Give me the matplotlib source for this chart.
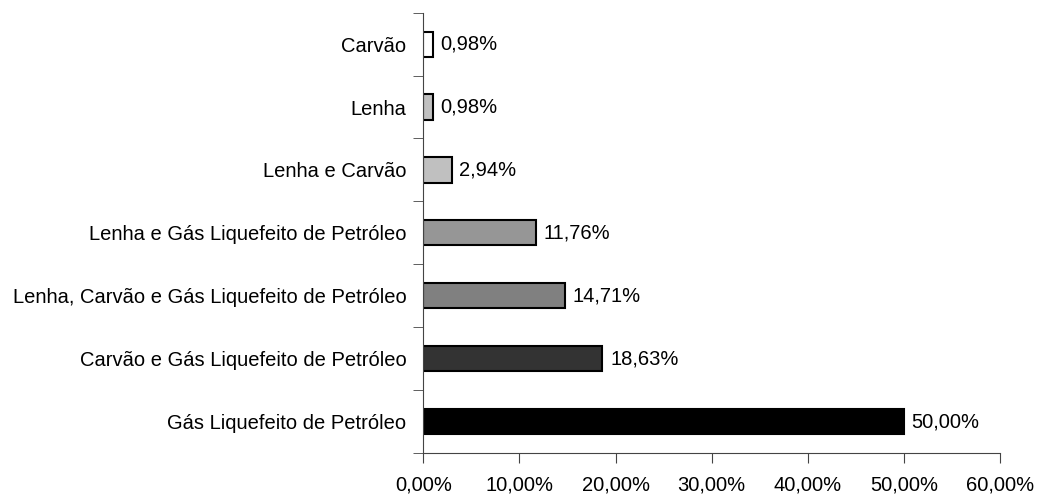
import matplotlib
matplotlib.use("Agg")
import matplotlib.pyplot as plt
from matplotlib.ticker import FuncFormatter

categorias = [
    "Gás Liquefeito de Petróleo",
    "Carvão e Gás Liquefeito de Petróleo",
    "Lenha, Carvão e Gás Liquefeito de Petróleo",
    "Lenha e Gás Liquefeito de Petróleo",
    "Lenha e Carvão",
    "Lenha",
    "Carvão",
]
valores = [50.00, 18.63, 14.71, 11.76, 2.94, 0.98, 0.98]
cores = ["#000000", "#333333", "#808080", "#969696", "#c0c0c0", "#c0c0c0", "#ffffff"]

plt.rcParams["font.family"] = ["Liberation Sans", "DejaVu Sans"]
plt.rcParams["font.size"] = 14.5

fig = plt.figure(figsize=(10.4, 4.97), dpi=100)
ax = fig.add_axes([0.407, 0.0885, 0.5545, 0.886])

pos = range(len(categorias))
ax.barh(pos, valores, height=0.4, color=cores, edgecolor="black", linewidth=1.5)

# rótulos de percentagem ao lado de cada barra
for i, v in enumerate(valores):
    ax.text(v + 0.8, i, f"{v:.2f}%".replace(".", ","), va="center", ha="left")

ax.set_xlim(0, 60)
ax.set_ylim(-0.5, len(categorias) - 0.5)
ax.set_xticks(range(0, 61, 10))
ax.xaxis.set_major_formatter(FuncFormatter(lambda x, p: f"{x:.2f}%".replace(".", ",")))
ax.set_yticks(list(pos))
ax.set_yticklabels(categorias)
ax.set_yticks([i + 0.5 for i in range(-1, len(categorias))], minor=True)
ax.tick_params(axis="y", which="major", length=0, pad=12)
ax.tick_params(axis="y", which="minor", length=7, color="#444444")
ax.tick_params(axis="x", length=7, color="#444444", pad=9)

for s in ["top", "right"]:
    ax.spines[s].set_visible(False)
for s in ["left", "bottom"]:
    ax.spines[s].set_color("#444444")

fig.savefig("out.png", dpi=100)
